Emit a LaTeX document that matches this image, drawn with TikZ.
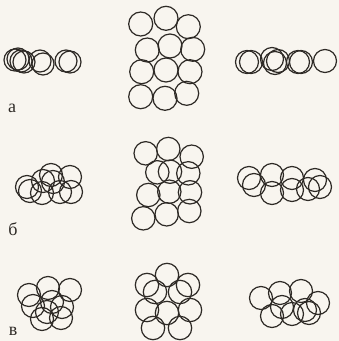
\documentclass[tikz,border=0pt]{standalone}
\usepackage{fontspec}
\setmainfont{Liberation Serif}
\definecolor{bg}{HTML}{F8F5EF}
\definecolor{ink}{HTML}{2E2A26}
\begin{document}
\begin{tikzpicture}[x=1pt,y=-1pt,
  ring/.style={draw=ink,line width=1.2pt},
  lab/.style={text=ink,font=\fontsize{18}{18}\selectfont,inner sep=0pt}]
\path[fill=bg,use as bounding box] (0,0) rectangle (339,341);
% row a
\foreach \x/\y in {15/60,18/59,21/61,24/62,40/61,43/64,66/61,70/62}
  \draw[ring] (\x,\y) circle (11);
\foreach \x/\y in {140.7/24,166/18.3,188.3/26.7,147.3/50,170/46,192.7/49.3,141.7/71.7,166/70,190/71.7,140.7/96.7,165/98.3,186.7/93.3}
  \draw[ring] (\x,\y) circle (12);
\foreach \x/\y in {247/62,251/62,272/59,275/63,278/61,298/62,301/62,325/61}
  \draw[ring] (\x,\y) circle (11.5);
% row b
\foreach \x/\y in {27/187,30/191,42/193,43/181,51/175,53/182,60/192,70/177,71/192}
  \draw[ring] (\x,\y) circle (11.5);
\foreach \x/\y in {145.7/153.3,168.3/149,191.7/156.7,157.3/172.3,170/171.7,188.3/173.3,148.3/195,169.3/191.7,190/192.3,143.3/218.3,166.7/214.3,189.3/211}
  \draw[ring] (\x,\y) circle (11.7);
\foreach \x/\y in {249/178,254/185,272/175,272/193,292/178,292/190,308/189,315/180,320/187}
  \draw[ring] (\x,\y) circle (11.5);
% row c
\foreach \x/\y in {29/295,48/288,70/290,33/306,52/302,62/307,42/319,61/318,47/312}
  \draw[ring] (\x,\y) circle (11.5);
\foreach \x/\y in {167/275,147/285,188/285,155/292,180/292,147/310,190/310,167/313,153/328,180/328}
  \draw[ring] (\x,\y) circle (11.7);
\foreach \x/\y in {261/298,272/316,280/293,282/307,301/291,305/310,309/313,318/303,292/314}
  \draw[ring] (\x,\y) circle (11.5);
% labels
\node[lab] (la) at (12,108) {а};
\node[lab] (lb) at (13,229) {б};
\node[lab] (lc) at (13,331) {в};
\end{tikzpicture}
\end{document}
